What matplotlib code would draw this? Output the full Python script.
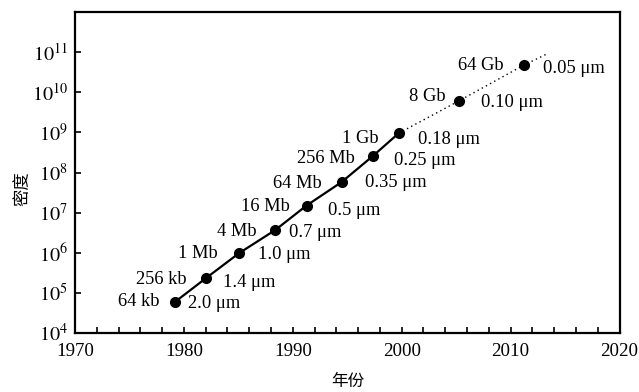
import math
import matplotlib
matplotlib.use("Agg")
import matplotlib.pyplot as plt
from matplotlib.ticker import FixedLocator, FuncFormatter, NullLocator

plt.rcParams['font.family'] = ['Liberation Serif', 'Noto Sans CJK SC']
plt.rcParams['mathtext.fontset'] = 'stix'

# Data
years = [1979.2, 1982.0, 1985.05, 1988.4, 1991.26, 1994.49, 1997.37, 1999.72, 2005.26, 2011.19]
density = [6.0e4, 2.3e5, 9.7e5, 3.7e6, 1.5e7, 5.8e7, 2.6e8, 9.5e8, 6.1e9, 4.7e10]
capacity = ["64 kb", "256 kb", "1 Mb", "4 Mb", "16 Mb", "64 Mb", "256 Mb", "1 Gb", "8 Gb", "64 Gb"]
feature = ["2.0 μm", "1.4 μm", "1.0 μm", "0.7 μm", "0.5 μm", "0.35 μm", "0.25 μm", "0.18 μm", "0.10 μm", "0.05 μm"]
n_solid = 8                      # points joined by the solid line
trend_end_year = [2013.22]       # end of the dotted projection
trend_end_density = [8.7e10]

x_ticks = [1970, 1980, 1990, 2000, 2010, 2020]
y_exponents = [4, 5, 6, 7, 8, 9, 10, 11]

# label offsets in pixels (dx, dy)
cap_offsets = [(-16, 0), (-19, -1), (-21, 0), (-19, -2), (-17, -1), (-20, -2),
               (-18, -3), (-20, -5), (-13, 4), (-20, 0)]
feat_offsets = [(13, -2), (17, -4), (19, -1), (14, -3), (21, -5), (23, -1),
                (21, -5), (19, -6), (22, -2), (19, -3)]

fig = plt.figure(figsize=(6.39, 3.92), dpi=100)
ax = fig.add_axes([75/639, 1-333/392, (619.5-75)/639, (333-12)/392])

ax.plot(years[:n_solid], density[:n_solid], color='black', lw=1.6, solid_capstyle='round')
ax.plot(years[n_solid-1:] + trend_end_year, density[n_solid-1:] + trend_end_density,
        color='black', lw=1.0, linestyle=(0, (1, 2.4)))
ax.plot(years, density, 'o', color='black', markersize=7)

fs = 13.3
for x, y, t, off in zip(years, density, capacity, cap_offsets):
    ax.annotate(t, (x, y), xytext=off, textcoords='offset pixels',
                ha='right', va='center', fontsize=fs)
for x, y, t, off in zip(years, density, feature, feat_offsets):
    ax.annotate(t, (x, y), xytext=off, textcoords='offset pixels',
                ha='left', va='center', fontsize=fs)

ax.set_yscale('log')
ax.set_xlim(1970, 2020)
ax.set_ylim(1e4, 1e12)
ax.xaxis.set_major_locator(FixedLocator(x_ticks))
ax.xaxis.set_minor_locator(FixedLocator([y for y in range(1970, 2021, 2) if y not in x_ticks]))
ax.yaxis.set_major_locator(FixedLocator([10.0**e for e in y_exponents]))
ax.yaxis.set_minor_locator(NullLocator())
ax.yaxis.set_major_formatter(FuncFormatter(lambda v, p: r'$10^{%d}$' % round(math.log10(v))))

ax.tick_params(axis='both', which='both', direction='in', width=1.2, color='black')
ax.tick_params(axis='x', which='both', length=4, pad=7, labelsize=13.6)
ax.tick_params(axis='y', which='major', length=4, pad=5, labelsize=14.5)
for s in ax.spines.values():
    s.set_linewidth(1.6)

fig.text(22/639, 1-189/392, "密度", rotation=90, ha='center', va='center',
         fontsize=12.5, family=['Noto Sans CJK SC'])
fig.text(348/639, 1-381/392, "年份", ha='center', va='center',
         fontsize=12, family=['Noto Sans CJK SC'])

fig.savefig("out.png", dpi=100)
